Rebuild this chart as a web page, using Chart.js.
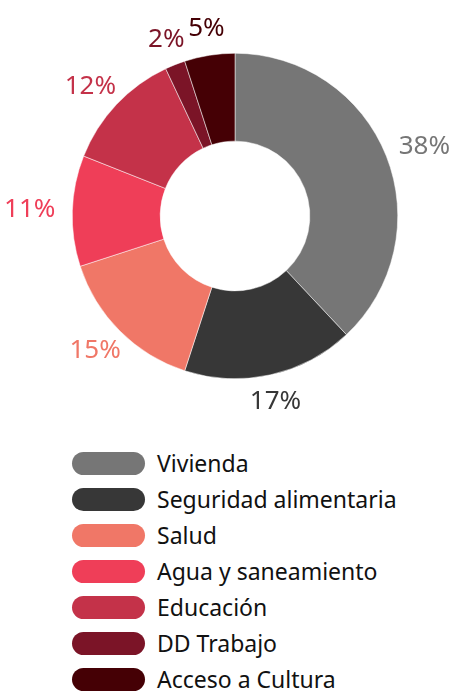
<!DOCTYPE html>
<html>
<head>
<meta charset="utf-8">
<script src="https://cdn.jsdelivr.net/npm/chart.js@4/dist/chart.umd.min.js"></script>
<style>
    html, body {
        margin: 0;
        padding: 0;
        background: #ffffff;
        width: 450px;
        height: 694px;
        overflow: hidden;
        font-family: 'Noto Sans', sans-serif;
    }
    #wrap {
        position: relative;
        width: 450px;
        height: 420px;
    }
    #legend {
        position: absolute;
        left: 72px;
        top: 445px;
        margin: 0;
        padding: 0;
        list-style: none;
    }
    #legend li {
        display: flex;
        align-items: center;
        height: 36px;
        font-size: 23px;
        color: #111111;
    }
    #legend .box {
        width: 73px;
        height: 23px;
        border-radius: 12px;
        margin-right: 12px;
        flex: none;
    }
</style>
</head>
<body>
<div id="wrap"><canvas id="chart" width="450" height="420"></canvas></div>
<ul id="legend"></ul>
<script>
const categories = [
    'Vivienda',
    'Seguridad alimentaria',
    'Salud',
    'Agua y saneamiento',
    'Educación',
    'DD Trabajo',
    'Acceso a Cultura'
]

const shares = [38, 17, 15, 11, 12, 2, 5]

const colors = [
    '#767676',
    '#373737',
    '#f07767',
    '#ef3e58',
    '#c43249',
    '#7b1427',
    '#450005'
]

// percentage labels outside each slice, pushed away by half their size
const outerLabels = {
    id: 'outerLabels',
    afterDatasetsDraw(chart) {
        const ctx = chart.ctx
        const meta = chart.getDatasetMeta(0)
        ctx.save()
        ctx.font = '26px "Noto Sans"'
        ctx.textAlign = 'center'
        ctx.textBaseline = 'middle'
        meta.data.forEach((arc, i) => {
            const p = arc.getProps(['x', 'y', 'startAngle', 'endAngle', 'outerRadius'], true)
            const mid = (p.startAngle + p.endAngle) / 2
            const r = p.outerRadius + 17
            const text = shares[i] + '%'
            const w = ctx.measureText(text).width
            const cx = p.x + Math.cos(mid) * (r + w / 2 * Math.abs(Math.cos(mid)))
            const cy = p.y + Math.sin(mid) * r + Math.sin(mid) * 10
            ctx.fillStyle = colors[i]
            ctx.fillText(text, cx, cy)
        })
        ctx.restore()
    }
}

new Chart(
    document.getElementById('chart'),
    {
        type: 'doughnut',
        data: {
            labels: categories,
            datasets: [
                {
                    data: shares,
                    backgroundColor: colors,
                    borderColor: '#ffffff',
                    borderWidth: 0.5
                }
            ]
        },
        options: {
            responsive: false,
            animation: false,
            cutout: '46%',
            layout: {
                padding: { left: 20, right: 0, top: 53, bottom: 41 }
            },
            plugins: {
                legend: { display: false },
                tooltip: { enabled: false }
            }
        },
        plugins: [outerLabels]
    }
)

const legend = document.getElementById('legend')
categories.forEach((name, i) => {
    const li = document.createElement('li')
    const box = document.createElement('span')
    box.className = 'box'
    box.style.background = colors[i]
    li.appendChild(box)
    li.appendChild(document.createTextNode(name))
    legend.appendChild(li)
})
</script>
</body>
</html>
